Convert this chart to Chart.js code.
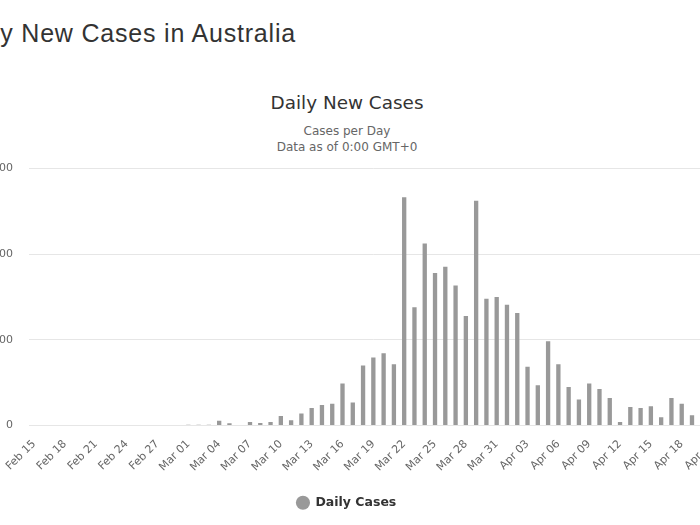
<!DOCTYPE html>
<html>
<head>
<meta charset="utf-8">
<script src="https://cdn.jsdelivr.net/npm/chart.js@4.4.1/dist/chart.umd.min.js"></script>
<style>
  html, body { margin: 0; padding: 0; background: #ffffff; overflow: hidden; }
  body { width: 700px; height: 525px; position: relative; }
  #heading { position: absolute; left: -46px; top: 21px; font-family: "Liberation Sans", Arial, sans-serif; font-size: 25px; line-height: 25px; letter-spacing: 0.8px; color: #333333; white-space: nowrap; }
  #title { position: absolute; left: 0; width: 694px; top: 94px; text-align: center; font-family: "DejaVu Sans", sans-serif; font-size: 18.4px; line-height: 18px; color: #333333; }
  #subtitle { position: absolute; left: 0; width: 694px; top: 123px; text-align: center; font-family: "DejaVu Sans", sans-serif; font-size: 12px; line-height: 16px; color: #666666; }
  #wrap { position: absolute; left: -40px; top: 146px; width: 774px; height: 379px; }
</style>
</head>
<body>
<div id="heading">Daily New Cases in Australia</div>
<div id="title">Daily New Cases</div>
<div id="subtitle">Cases per Day<br>Data as of 0:00 GMT+0</div>
<div id="wrap"><canvas id="c" width="774" height="379"></canvas></div>
<script>
const dates = [
  "Feb 15","Feb 16","Feb 17","Feb 18","Feb 19","Feb 20","Feb 21","Feb 22","Feb 23","Feb 24","Feb 25","Feb 26","Feb 27","Feb 28","Feb 29",
  "Mar 01","Mar 02","Mar 03","Mar 04","Mar 05","Mar 06","Mar 07","Mar 08","Mar 09","Mar 10","Mar 11","Mar 12","Mar 13","Mar 14","Mar 15","Mar 16",
  "Mar 17","Mar 18","Mar 19","Mar 20","Mar 21","Mar 22","Mar 23","Mar 24","Mar 25","Mar 26","Mar 27","Mar 28","Mar 29","Mar 30","Mar 31",
  "Apr 01","Apr 02","Apr 03","Apr 04","Apr 05","Apr 06","Apr 07","Apr 08","Apr 09","Apr 10","Apr 11","Apr 12","Apr 13","Apr 14","Apr 15",
  "Apr 16","Apr 17","Apr 18","Apr 19","Apr 20","Apr 21"
];
const febCases = [0,0,0,0,0,0,0,0,0,0,0,0,0,0,0];
const marCases = [2,2,2,11,5,0,8,6,8,22,12,28,41,48,51,98,54,140,159,169,143,533,276,425,356,371,327,256,525,296,300];
const aprCases = [282,263,137,94,197,143,90,61,98,85,64,8,43,41,45,19,64,51,24,13,18];
const dailyCases = febCases.concat(marCases, aprCases);
const yTicks = [0, 200, 400, 600];

new Chart(document.getElementById('c'), {
  type: 'bar',
  data: {
    labels: dates,
    datasets: [{
      label: 'Daily Cases',
      data: dailyCases,
      backgroundColor: '#999999',
      borderWidth: 0,
      categoryPercentage: 1.0,
      barPercentage: 0.42
    }]
  },
  options: {
    responsive: false,
    animation: false,
    layout: { padding: { top: 14, right: 15, left: 14, bottom: 6 } },
    plugins: {
      tooltip: { enabled: false },
      title: { display: false },
      legend: {
        position: 'bottom',
        labels: {
          usePointStyle: true,
          pointStyle: 'circle',
          boxWidth: 13,
          boxHeight: 10,
          color: '#333333',
          font: { family: 'DejaVu Sans', size: 12.5, weight: 'bold' },
          padding: 10
        }
      }
    },
    scales: {
      y: {
        min: 0,
        max: 600,
        afterBuildTicks: (s) => { s.ticks = yTicks.map(v => ({ value: v })); },
        afterFit: (s) => { s.width = 55; },
        grid: { color: '#e6e6e6', drawTicks: false, lineWidth: 1 },
        border: { display: false },
        ticks: { color: '#666666', padding: 16, font: { family: 'DejaVu Sans', size: 11 } }
      },
      x: {
        afterFit: (s) => { s.height = 61; },
        grid: { display: false, drawTicks: false },
        border: { display: false },
        ticks: {
          autoSkip: false,
          maxRotation: 45,
          minRotation: 45,
          padding: 12,
          color: '#666666',
          font: { family: 'DejaVu Sans', size: 11 },
          callback: function (v, i) { return i % 3 === 0 ? dates[i] : ''; }
        }
      }
    }
  }
});
</script>
</body>
</html>
